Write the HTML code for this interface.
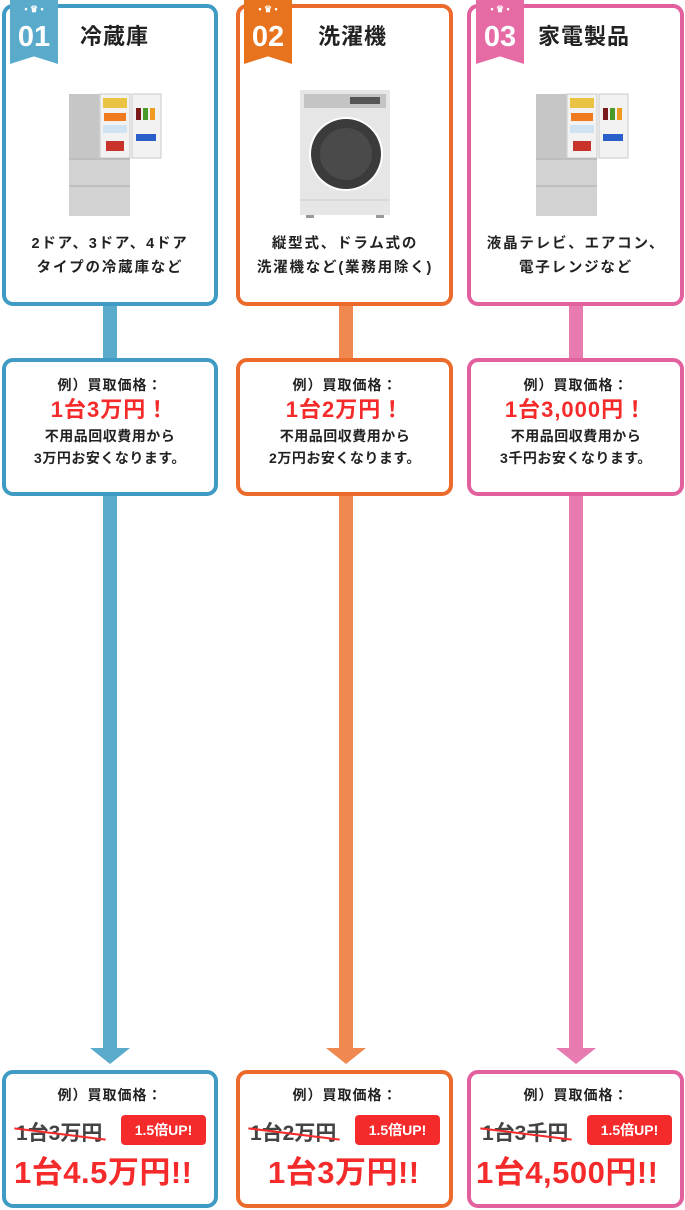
<!DOCTYPE html>
<html><head><meta charset="utf-8"><style>
*{margin:0;padding:0;box-sizing:border-box}
body{width:685px;height:1210px;background:#fff;position:relative;overflow:hidden;font-family:"Liberation Sans","Noto Sans CJK JP",sans-serif;color:#222;font-weight:bold}
.box{position:absolute;border:4px solid;border-radius:11px;background:#fff}
.bar{position:absolute;width:14px}
.tri{position:absolute;width:0;height:0;border-left:20px solid transparent;border-right:20px solid transparent;border-top:16px solid}
.badge{position:absolute;top:0;width:48px;height:64px;color:#fff;font-size:29px;text-align:center;line-height:30px;padding-top:22px;clip-path:polygon(0 0,100% 0,100% 100%,50% 88%,0 100%);font-family:"Liberation Sans",sans-serif}
.badge:before{content:"• ♛ •";position:absolute;top:3px;left:0;width:100%;font-size:9px;line-height:12px}
.title{position:absolute;top:22px;font-size:22px;line-height:30px;letter-spacing:1px}
.desc{position:absolute;top:232px;font-size:14.5px;line-height:24px;text-align:center;width:216px;letter-spacing:1.8px}
.mid{position:absolute;text-align:center;width:216px}
.l1{font-size:14px;line-height:20px;letter-spacing:1px}
.red{color:#f52a2a;font-size:22px;line-height:30px;letter-spacing:1px}
.l3{font-size:14px;line-height:22px;letter-spacing:.5px}
.old{position:absolute;font-size:21px;color:#444;line-height:24px}
.old:after{content:"";position:absolute;left:-2px;right:-4px;top:11px;height:2px;background:#f52a2a;transform:rotate(7deg)}
.up{position:absolute;background:#f52a2a;color:#fff;font-size:14px;line-height:30px;width:85px;text-align:center;border-radius:4px}
.big{position:absolute;color:#f52a2a;font-size:31px;line-height:40px;letter-spacing:.5px}
</style></head><body>

<div class="bar" style="left:103px;top:300px;height:60px;background:#5aaacb"></div>
<div class="bar" style="left:103px;top:494px;height:556px;background:#5aaacb"></div>
<div class="tri" style="left:90px;top:1048px;border-top-color:#5aaacb"></div>
<div class="bar" style="left:339px;top:300px;height:60px;background:#f0894f"></div>
<div class="bar" style="left:339px;top:494px;height:556px;background:#f0894f"></div>
<div class="tri" style="left:326px;top:1048px;border-top-color:#f0894f"></div>
<div class="bar" style="left:569px;top:300px;height:60px;background:#e77bb0"></div>
<div class="bar" style="left:569px;top:494px;height:556px;background:#e77bb0"></div>
<div class="tri" style="left:556px;top:1048px;border-top-color:#e77bb0"></div>

<div class="box" style="left:2px;top:4px;width:216px;height:302px;border-color:#3f9bc3"></div>
<div class="badge" style="left:10px;background:#5aaacb">01</div>
<div class="title" style="left:80px">冷蔵庫</div>
<svg style="position:absolute;left:68px;top:92px" width="94" height="126">
 <rect x="1" y="2" width="61" height="122" fill="#d2d2d2"/>
 <rect x="1" y="2" width="30" height="64" fill="#c6c6c6"/>
 <rect x="32" y="2" width="30" height="64" fill="#f2f2f2" stroke="#c9c9c9"/>
 <rect x="35" y="6" width="24" height="10" fill="#e9c341"/>
 <rect x="36" y="21" width="22" height="8" fill="#f07a1e"/>
 <rect x="35" y="33" width="24" height="8" fill="#cfe3f2"/>
 <rect x="38" y="49" width="18" height="10" fill="#c9342a"/>
 <rect x="64" y="2" width="29" height="64" fill="#f2f2f2" stroke="#c9c9c9"/>
 <rect x="68" y="16" width="5" height="12" fill="#7a1a1a"/><rect x="75" y="16" width="5" height="12" fill="#4a9a2a"/><rect x="82" y="16" width="5" height="12" fill="#f09a20"/>
 <rect x="68" y="42" width="20" height="7" fill="#2a5ec9"/>
 <line x1="1" y1="67" x2="62" y2="67" stroke="#aaa"/>
 <line x1="1" y1="94" x2="62" y2="94" stroke="#aaa"/>
</svg>
<div class="desc" style="left:2px">2ドア、3ドア、4ドア<br>タイプの冷蔵庫など</div>

<div class="box" style="left:2px;top:358px;width:216px;height:138px;border-color:#3f9bc3"></div>
<div class="mid" style="left:2px;top:375px"><div class="l1">例）買取価格：</div><div class="red">1台3万円！</div><div class="l3">不用品回収費用から<br>3万円お安くなります。</div></div>

<div class="box" style="left:2px;top:1070px;width:216px;height:138px;border-color:#3f9bc3"></div>
<div class="mid l1" style="left:2px;top:1085px">例）買取価格：</div>
<div class="old" style="left:16px;top:1122px">1台3万円</div>
<div class="up" style="left:121px;top:1115px">1.5倍UP!</div>
<div class="big" style="left:14px;top:1153px">1台4.5万円!!</div>

<div class="box" style="left:236px;top:4px;width:217px;height:302px;border-color:#ec6a2c"></div>
<div class="badge" style="left:244px;background:#e8731e">02</div>
<div class="title" style="left:318px">洗濯機</div>
<svg style="position:absolute;left:300px;top:90px" width="91" height="130">
 <rect x="0" y="0" width="90" height="125" fill="#e6e6e6"/>
 <rect x="4" y="4" width="82" height="14" fill="#c4c4c4"/>
 <rect x="50" y="7" width="30" height="7" fill="#555"/>
 <circle cx="46" cy="64" r="37" fill="#fff"/>
 <circle cx="46" cy="64" r="35" fill="#3b3b3b"/>
 <circle cx="46" cy="64" r="26" fill="#4a4a4a"/>
 <line x1="0" y1="110" x2="90" y2="110" stroke="#cfcfcf"/>
 <rect x="6" y="125" width="8" height="3" fill="#999"/><rect x="76" y="125" width="8" height="3" fill="#999"/>
</svg>
<div class="desc" style="left:237px">縦型式、ドラム式の<br>洗濯機など(業務用除く)</div>

<div class="box" style="left:236px;top:358px;width:217px;height:138px;border-color:#ec6a2c"></div>
<div class="mid" style="left:237px;top:375px"><div class="l1">例）買取価格：</div><div class="red">1台2万円！</div><div class="l3">不用品回収費用から<br>2万円お安くなります。</div></div>

<div class="box" style="left:236px;top:1070px;width:217px;height:138px;border-color:#ec6a2c"></div>
<div class="mid l1" style="left:237px;top:1085px">例）買取価格：</div>
<div class="old" style="left:250px;top:1122px">1台2万円</div>
<div class="up" style="left:355px;top:1115px">1.5倍UP!</div>
<div class="big" style="left:268px;top:1153px">1台3万円!!</div>

<div class="box" style="left:467px;top:4px;width:217px;height:302px;border-color:#e2609e"></div>
<div class="badge" style="left:476px;background:#e66ba4">03</div>
<div class="title" style="left:538px">家電製品</div>
<svg style="position:absolute;left:535px;top:92px" width="94" height="126">
 <rect x="1" y="2" width="61" height="122" fill="#d2d2d2"/>
 <rect x="1" y="2" width="30" height="64" fill="#c6c6c6"/>
 <rect x="32" y="2" width="30" height="64" fill="#f2f2f2" stroke="#c9c9c9"/>
 <rect x="35" y="6" width="24" height="10" fill="#e9c341"/>
 <rect x="36" y="21" width="22" height="8" fill="#f07a1e"/>
 <rect x="35" y="33" width="24" height="8" fill="#cfe3f2"/>
 <rect x="38" y="49" width="18" height="10" fill="#c9342a"/>
 <rect x="64" y="2" width="29" height="64" fill="#f2f2f2" stroke="#c9c9c9"/>
 <rect x="68" y="16" width="5" height="12" fill="#7a1a1a"/><rect x="75" y="16" width="5" height="12" fill="#4a9a2a"/><rect x="82" y="16" width="5" height="12" fill="#f09a20"/>
 <rect x="68" y="42" width="20" height="7" fill="#2a5ec9"/>
 <line x1="1" y1="67" x2="62" y2="67" stroke="#aaa"/>
 <line x1="1" y1="94" x2="62" y2="94" stroke="#aaa"/>
</svg>
<div class="desc" style="left:468px">液晶テレビ、エアコン、<br>電子レンジなど</div>

<div class="box" style="left:467px;top:358px;width:217px;height:138px;border-color:#e2609e"></div>
<div class="mid" style="left:468px;top:375px"><div class="l1">例）買取価格：</div><div class="red">1台3,000円！</div><div class="l3">不用品回収費用から<br>3千円お安くなります。</div></div>

<div class="box" style="left:467px;top:1070px;width:217px;height:138px;border-color:#e2609e"></div>
<div class="mid l1" style="left:468px;top:1085px">例）買取価格：</div>
<div class="old" style="left:482px;top:1122px">1台3千円</div>
<div class="up" style="left:587px;top:1115px">1.5倍UP!</div>
<div class="big" style="left:476px;top:1153px">1台4,500円!!</div>

</body></html>
